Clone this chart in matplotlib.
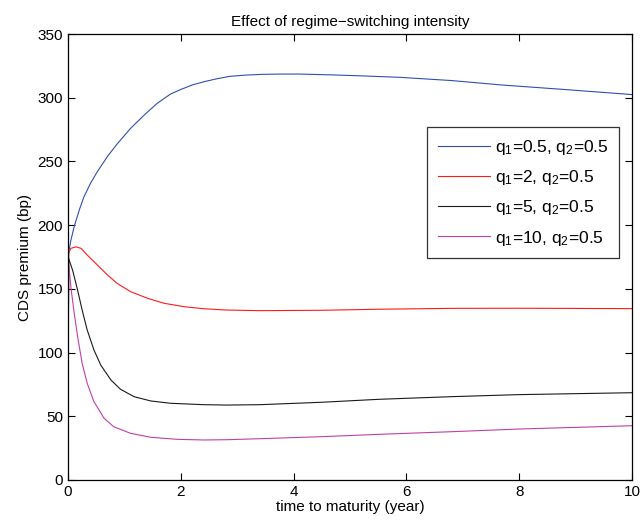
import matplotlib
matplotlib.use("Agg")
from matplotlib import pyplot as plt

plt.rcParams['font.family'] = ['Liberation Sans', 'DejaVu Sans']
plt.rcParams['mathtext.default'] = 'regular'

# time to maturity (years) and CDS premium (bp)
t_blue = [0, 0.01, 0.02, 0.05, 0.11, 0.2, 0.28, 0.4, 0.52, 0.7, 0.87, 1.11, 1.35, 1.58, 1.82, 2.0, 2.2, 2.41, 2.65, 2.87,
          3.15, 3.46, 3.8, 4.1, 4.65, 5.2, 5.9, 6.8, 7.7, 8.8, 10]
v_blue = [0, 176, 180.5, 188, 199, 212, 222, 233, 242, 254, 263.7, 276, 286.4, 295.6, 303, 306.5, 310, 312.6, 315, 316.8,
          317.8, 318.4, 318.6, 318.6, 318, 317.2, 316, 313.5, 310, 306.5, 302.5]

t_red = [0, 0.01, 0.05, 0.14, 0.23, 0.34, 0.52, 0.7, 0.87, 1.11, 1.41, 1.7, 2.06, 2.41, 2.81, 3.4, 4.5, 5.5, 6.8, 8.0, 10]
v_red = [0, 178, 181.8, 183, 181.8, 176.6, 168.7, 160.9, 154.3, 147.8, 142.6, 138.7, 136, 134.4, 133.4, 132.9, 133.2,
         134, 134.7, 134.8, 134.5]

t_black = [0, 0.01, 0.08, 0.17, 0.25, 0.34, 0.46, 0.58, 0.76, 0.93, 1.17, 1.47, 1.82, 2.41, 2.81, 3.4, 4.5, 5.5, 6.8,
           8.0, 10]
v_black = [0, 174, 164.8, 149, 133.4, 117.7, 102, 90.2, 78.5, 71.2, 65.4, 62, 60.2, 59.1, 58.8, 59.1, 61, 63.3, 65.4,
           67, 68.5]

t_mag = [0, 0.01, 0.05, 0.11, 0.17, 0.25, 0.34, 0.46, 0.64, 0.81, 1.11, 1.47, 1.94, 2.41, 2.81, 3.4, 4.5, 5.5, 6.8,
         8.0, 10]
v_mag = [0, 170, 151.7, 130.8, 112.5, 91.6, 75.9, 61.4, 48.4, 41.8, 36.6, 33.5, 31.9, 31.4, 31.6, 32.4, 34, 35.8, 37.9,
         40, 42.6]

labels = ['q$_1$=0.5, q$_2$=0.5', 'q$_1$=2, q$_2$=0.5', 'q$_1$=5, q$_2$=0.5', 'q$_1$=10, q$_2$=0.5']
colors = ['#2f4fb0', '#ff1a1a', '#1a1a1a', '#c03fa8']

fig = plt.figure(figsize=(6.43, 5.24), dpi=100)
ax = fig.add_axes([0.1058, 0.084, 0.8771, 0.851])

ax.plot(t_blue, v_blue, color=colors[0], lw=0.8, label=labels[0])
ax.plot(t_red, v_red, color=colors[1], lw=0.8, label=labels[1])
ax.plot(t_black, v_black, color=colors[2], lw=0.8, label=labels[2])
ax.plot(t_mag, v_mag, color=colors[3], lw=0.8, label=labels[3])

ax.set_xlim(0, 10)
ax.set_ylim(0, 350)
ax.set_xticks([0, 2, 4, 6, 8, 10])
ax.set_yticks(range(0, 351, 50))
ax.tick_params(direction='in', top=True, right=True, labelsize=11, length=5, width=0.8)
for s in ax.spines.values():
    s.set_linewidth(0.9)

ax.set_title('Effect of regime\u2212switching intensity', fontsize=11, pad=6)
ax.set_xlabel('time to maturity (year)', fontsize=11, labelpad=1)
ax.set_ylabel('CDS premium (bp)', fontsize=11, labelpad=4)

leg = ax.legend(loc='upper right', bbox_to_anchor=(0.977, 0.791), fontsize=12.5,
                frameon=True, fancybox=False, edgecolor='black', handlelength=3.0,
                handletextpad=0.3, labelspacing=0.65, borderpad=0.6, borderaxespad=0)
leg.get_frame().set_linewidth(0.9)

fig.savefig('out.png', dpi=100)
